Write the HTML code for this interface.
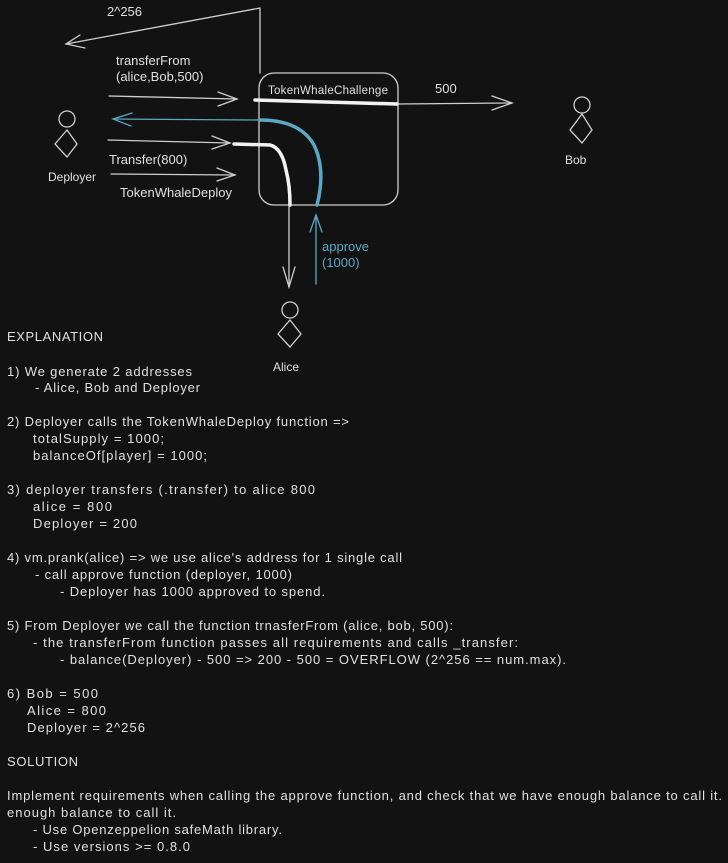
<!DOCTYPE html>
<html><head><meta charset="utf-8"><style>
html,body{margin:0;padding:0;background:#121212;}
svg{display:block}
text{font-family:"Liberation Sans",sans-serif;font-size:13px;fill:#e0e0e0}
</style></head><body>
<svg width="728" height="863" viewBox="0 0 728 863" xmlns="http://www.w3.org/2000/svg">
<rect width="728" height="863" fill="#121212"/>
<g fill="none" stroke="#cfcfcf" stroke-width="1.3" stroke-linecap="round">
<!-- 2^256 -->
<path d="M260 8 L260 73"/>
<path d="M260 8 L66 44"/>
<path d="M80 35 L66 44 L85 48"/>
<!-- transferFrom arrow -->
<path d="M109 96 L237 99"/>
<path d="M218 92 L237 99 L218 106"/>
<!-- arrow 2 -->
<path d="M108 140 L230 143"/>
<path d="M212 136 L230 143 L212 149"/>
<!-- TokenWhaleDeploy arrow -->
<path d="M111 174 L235 175"/>
<path d="M217 168 L235 175 L217 181"/>
<!-- box -->
<rect x="259" y="73" width="139" height="132" rx="15"/>
<!-- 500 arrow -->
<path d="M398 104 L512 103"/>
<path d="M492 96 L512 103 L492 110"/>
<!-- down to alice -->
<path d="M289 205 L289 287"/>
<path d="M283 267 L289 287 L295 267"/>
<!-- actors -->
<circle cx="67" cy="119" r="8"/>
<path d="M67 130 L77 144 L67 157 L55 144 Z"/>
<circle cx="582" cy="105" r="8"/>
<path d="M582 114 L592 130 L582 143 L570 130 Z"/>
<circle cx="290" cy="310" r="8"/>
<path d="M290 320 L301 334 L290 347 L278 334 Z"/>
</g>
<!-- thick white -->
<path d="M255 100 Q330 102 397 104" stroke="#f2f2f2" stroke-width="3.5" fill="none" stroke-linecap="round"/>
<path d="M234 144 L270 145 Q282 148 286 170 Q290 185 290 205" stroke="#f2f2f2" stroke-width="3.5" fill="none" stroke-linecap="round"/>
<!-- blue -->
<g stroke="#5aa8c4" fill="none" stroke-linecap="round">
<path d="M260 120 Q300 120 314 145 Q326 170 317 205" stroke-width="3.5"/>
<path d="M260 120 L113 119" stroke-width="1.3"/>
<path d="M132 113 L113 119 L131 126" stroke-width="1.3"/>
<path d="M316 284 L316 215" stroke-width="1.3"/>
<path d="M310 232 L316 215 L322 232" stroke-width="1.3"/>
</g>
<text x="107" y="16">2^256</text>
<text x="116" y="65">transferFrom</text>
<text x="116" y="81">(alice,Bob,500)</text>
<text x="109" y="164">Transfer(800)</text>
<text x="120" y="197">TokenWhaleDeploy</text>
<text x="268" y="94" textLength="120" style="font-size:11.5px">TokenWhaleChallenge</text>
<text x="435" y="93">500</text>
<text x="48" y="181" style="font-size:12px">Deployer</text>
<text x="565" y="164" style="font-size:12px">Bob</text>
<text x="273" y="371" style="font-size:12px">Alice</text>
<text x="322" y="251" style="fill:#5aa8c4">approve</text>
<text x="322" y="267" style="fill:#5aa8c4">(1000)</text>

<text x="7" y="341" textLength="96">EXPLANATION</text>
<text x="7" y="376" textLength="185">1) We generate 2 addresses</text>
<text x="35" y="392" textLength="165">- Alice, Bob and Deployer</text>
<text x="7" y="426" textLength="342">2) Deployer calls the TokenWhaleDeploy function =&gt;</text>
<text x="33" y="443" textLength="131">totalSupply = 1000;</text>
<text x="33" y="460" textLength="174">balanceOf[player] = 1000;</text>
<text x="7" y="494" textLength="308">3) deployer transfers (.transfer) to alice 800</text>
<text x="33" y="511" textLength="79">alice = 800</text>
<text x="33" y="528" textLength="104">Deployer = 200</text>
<text x="7" y="562" textLength="395">4) vm.prank(alice) =&gt; we use alice's address for 1 single call</text>
<text x="35" y="579" textLength="257">- call approve function (deployer, 1000)</text>
<text x="60" y="596" textLength="265">- Deployer has 1000 approved to spend.</text>
<text x="7" y="630" textLength="446">5) From Deployer we call the function trnasferFrom (alice, bob, 500):</text>
<text x="33" y="647" textLength="485">- the transferFrom function passes all requirements and calls _transfer:</text>
<text x="60" y="664" textLength="506">- balance(Deployer) - 500 =&gt; 200 - 500 = OVERFLOW (2^256 == num.max).</text>
<text x="7" y="698" textLength="91">6) Bob = 500</text>
<text x="27" y="715" textLength="79">Alice = 800</text>
<text x="27" y="732" textLength="118">Deployer = 2^256</text>
<text x="7" y="766" textLength="71">SOLUTION</text>
<text x="7" y="800" textLength="715">Implement requirements when calling the approve function, and check that we have enough balance to call it.</text>
<text x="7" y="817" textLength="169">enough balance to call it.</text>
<text x="33" y="834" textLength="249">- Use Openzeppelion safeMath library.</text>
<text x="33" y="851" textLength="157">- Use versions &gt;= 0.8.0</text>
</svg>
</body></html>
